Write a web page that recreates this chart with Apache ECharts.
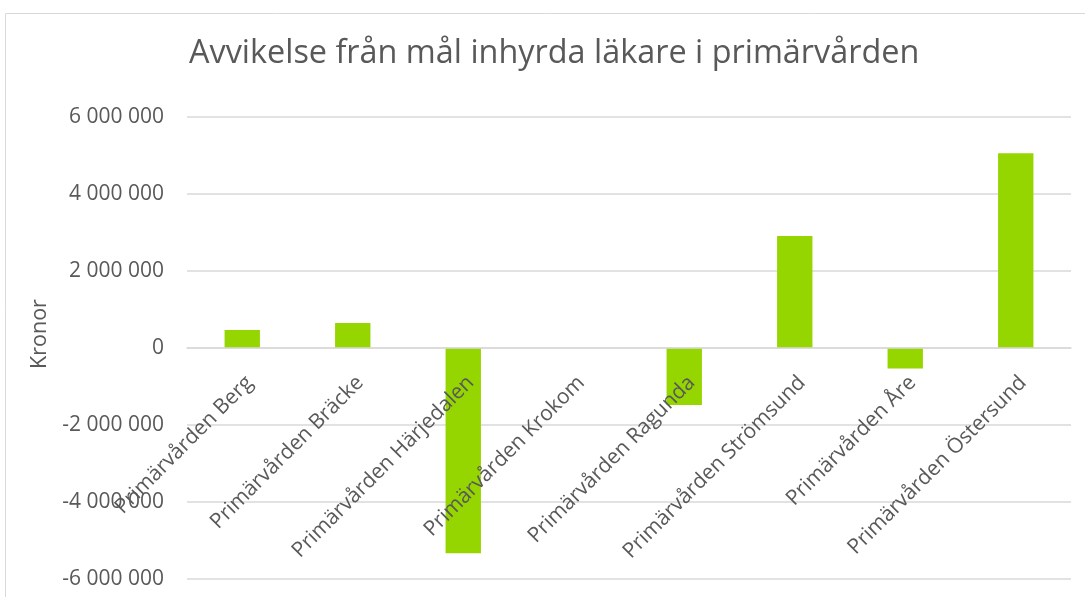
<!DOCTYPE html>
<html><head><meta charset="utf-8">
<script src="https://cdn.jsdelivr.net/npm/echarts@6/dist/echarts.min.js"></script>
<style>html,body{margin:0;padding:0;background:#fff}#c{width:1085px;height:597px}</style>
</head><body><div id="c"></div>
<script>
const title = 'Avvikelse från mål inhyrda läkare i primärvården';
const yAxisTitle = 'Kronor';
const categories = ['Primärvården Berg','Primärvården Bräcke','Primärvården Härjedalen','Primärvården Krokom','Primärvården Ragunda','Primärvården Strömsund','Primärvården Åre','Primärvården Östersund'];
const values = [470000, 650000, -5330000, 0, -1480000, 2910000, -530000, 5060000];
const yTicks = [-6000000, -4000000, -2000000, 0, 2000000, 4000000, 6000000];

function fmt(v){
  const s = Math.abs(v).toString().replace(/\B(?=(\d{3})+(?!\d))/g, ' ');
  return (v < 0 ? '-' : '') + s;
}
const chart = echarts.init(document.getElementById('c'));
chart.setOption({
  animation: false,
  textStyle: {fontFamily: 'Open Sans'},
  title: {text: title, left: 184, top: 33, textStyle: {fontFamily: 'Open Sans', fontWeight: 'normal', fontSize: 32.4, color: '#595959'}},
  graphic: [
    {type: 'rect', shape: {x: 5.5, y: 13.5, width: 1100, height: 700}, style: {fill: 'none', stroke: '#d9d9d9', lineWidth: 1}, silent: true},
    {type: 'text', x: 40, y: 334, rotation: Math.PI/2, style: {text: yAxisTitle, fontFamily: 'Open Sans', fontSize: 21.5, fill: '#595959', align: 'center', verticalAlign: 'middle'}}
  ],
  grid: {left: 187, right: 14, top: 117, bottom: 18, containLabel: false, outerBoundsMode: 'none'},
  xAxis: {type: 'category', data: categories, offset: -231, z: 10,
    axisLine: {onZero: false, lineStyle: {color: '#d9d9d9', width: 1.5}},
    axisTick: {show: false},
    axisLabel: {rotate: 45, interval: 0, fontSize: 21, color: '#595959', fontFamily: 'Open Sans', margin: 24, verticalAlign: 'top', hideOverlap: false}},
  yAxis: {type: 'value', min: yTicks[0], max: yTicks[yTicks.length-1], interval: 2000000,
    axisLine: {show: false}, axisTick: {show: false},
    splitLine: {lineStyle: {color: '#d9d9d9', width: 1.5}},
    axisLabel: {fontSize: 21, color: '#595959', fontFamily: 'Open Sans', margin: 23, formatter: fmt}},
  series: [{type: 'bar', data: values, barWidth: '32%', itemStyle: {color: '#96d600'}}]
});
</script></body></html>
